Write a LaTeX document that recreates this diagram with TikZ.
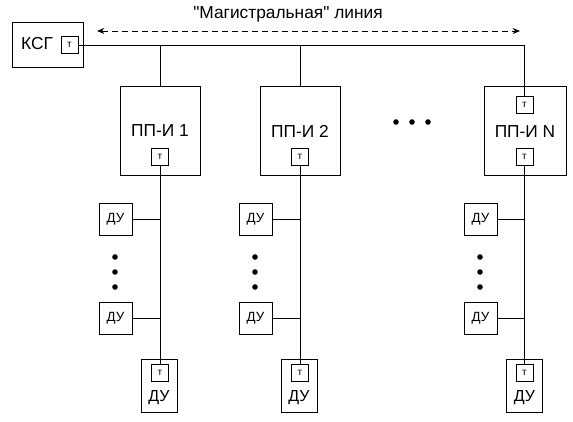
\documentclass[tikz,border=0pt]{standalone}
\usepackage{fontspec}
\setmainfont[Ligatures=TeXOff]{Liberation Sans}
\usetikzlibrary{arrows.meta}

\begin{document}
\begin{tikzpicture}[x=0.75pt, y=-0.75pt, line width=0.75pt,
  blok/.style={draw, inner sep=0pt},
  term/.style={draw, inner sep=0pt, minimum width=12.75pt, minimum height=12.75pt, font=\fontsize{7.5}{8}\selectfont},
  du/.style={draw, inner sep=0pt, minimum width=24.75pt, minimum height=24pt, font=\fontsize{10}{11}\selectfont},
  dubot/.style={draw, inner sep=0pt, minimum width=27pt, minimum height=39.75pt},
  tochka/.style={circle, fill, inner sep=0pt, minimum size=4.2pt},
  bigtxt/.style={font=\fontsize{13}{15}\selectfont}]
 \useasboundingbox (0,0) rectangle (573,421);

 %% magistral
 \node[bigtxt] (mag) at (288,14) {"Магистральная" линия};
 \coordinate (magL) at (97,31);
 \coordinate (magR) at (520,31);
 \draw [dash pattern=on 4.5pt off 3pt, {Stealth[length=5.5pt,width=4.5pt]}-{Stealth[length=5.5pt,width=4.5pt]}] (magL) -- (magR);

 \node[blok, minimum width=53.25pt, minimum height=33.75pt] (ksg) at (47.5,44.5) {};
 \node[bigtxt] (ksgtxt) at (37,44) {КСГ};
 \node[term] (ksgt) at (69.5,45) {т};

 %% PP-I
 \node[blok, minimum width=60pt, minimum height=66.75pt] (pp1) at (160,130.5) {};
 \node[bigtxt] (pp1txt) at (160,131) {ПП-И 1};
 \node[term] (pp1t) at (160,156.5) {т};

 \node[blok, minimum width=60pt, minimum height=66.75pt] (pp2) at (300,130.5) {};
 \node[bigtxt] (pp2txt) at (300,131) {ПП-И 2};
 \node[term] (pp2t) at (300,156.5) {т};

 \node[blok, minimum width=61.5pt, minimum height=66.75pt] (ppN) at (525,130.5) {};
 \node[term] (ppNtop) at (524.5,104.5) {т};
 \node[bigtxt] (ppNtxt) at (525,132) {ПП-И N};
 \node[term] (ppNt) at (524.5,156.5) {т};

 \node[tochka] (d1) at (396,122) {};
 \node[tochka] (d2) at (412,122) {};
 \node[tochka] (d3) at (428,122) {};

 \draw (ksgt.east) -- (ksgt -| ppNtop) -- (ppNtop.north);
 \draw (pp1.north) -- (pp1.north |- ksgt);
 \draw (pp2.north) -- (pp2.north |- ksgt);

 %% DU 1
 \node[du] (du1a) at (115.5,219) {ДУ};
 \node[du] (du1b) at (115.5,318.5) {ДУ};
 \node[tochka] at (115,257) {};
 \node[tochka] at (115,272) {};
 \node[tochka] at (115,287) {};
 \node[dubot] (du1n) at (159,385.5) {};
 \node[term] (du1nt) at (160,373) {т};
 \node[font=\fontsize{12}{13}\selectfont] (du1ntxt) at (159,398) {ДУ};
 \draw (pp1t.south) -- (du1nt.north);
 \draw (du1a.east) -- (du1a.east -| pp1t);
 \draw (du1b.east) -- (du1b.east -| pp1t);

 %% DU 2
 \node[du] (du2a) at (255.5,219) {ДУ};
 \node[du] (du2b) at (255.5,318.5) {ДУ};
 \node[tochka] at (255,257) {};
 \node[tochka] at (255,272) {};
 \node[tochka] at (255,287) {};
 \node[dubot] (du2n) at (299,385.5) {};
 \node[term] (du2nt) at (300,373) {т};
 \node[font=\fontsize{12}{13}\selectfont] (du2ntxt) at (299,398) {ДУ};
 \draw (pp2t.south) -- (du2nt.north);
 \draw (du2a.east) -- (du2a.east -| pp2t);
 \draw (du2b.east) -- (du2b.east -| pp2t);

 %% DU N
 \node[du] (duNa) at (480.5,219) {ДУ};
 \node[du] (duNb) at (480.5,318.5) {ДУ};
 \node[tochka] at (480,257) {};
 \node[tochka] at (480,272) {};
 \node[tochka] at (480,287) {};
 \node[dubot] (duNn) at (524.5,385.5) {};
 \node[term] (duNnt) at (524.5,373) {т};
 \node[font=\fontsize{12}{13}\selectfont] (duNntxt) at (524.5,398) {ДУ};
 \draw (ppNt.south) -- (duNnt.north);
 \draw (duNa.east) -- (duNa.east -| ppNt);
 \draw (duNb.east) -- (duNb.east -| ppNt);
\end{tikzpicture}
\end{document}
